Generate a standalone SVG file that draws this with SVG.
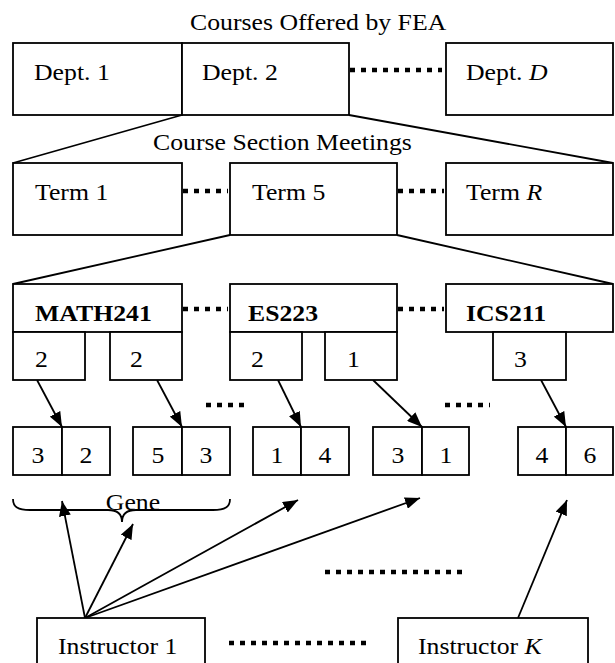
<svg xmlns="http://www.w3.org/2000/svg" width="615" height="663" viewBox="0 0 615 663">
<defs>
<marker id="ah" viewBox="0 0 15 12" refX="15" refY="6" markerWidth="15" markerHeight="12" markerUnits="userSpaceOnUse" orient="auto">
<path d="M0,0 L15,6 L0,12 z" fill="#000"/>
</marker>
<style>
text{font-family:"Liberation Serif","Times New Roman",serif;font-size:23px;fill:#000}
.b{font-weight:bold}
.m{text-anchor:middle}
rect{fill:#fff;stroke:#000;stroke-width:1.8}
.ln{stroke:#000;stroke-width:1.8;fill:none}
.dot{stroke:#000;stroke-width:4.5;stroke-dasharray:5 6;fill:none}
.ar{stroke:#000;stroke-width:1.8;fill:none;marker-end:url(#ah)}
</style>
</defs>
<rect x="0" y="0" width="615" height="663" style="fill:#fff;stroke:none"/>
<text transform="translate(190,30) scale(1.12,1)">Courses Offered by FEA</text>
<text transform="translate(153,150) scale(1.12,1)">Course Section Meetings</text>
<g id="connectors">
<path class="ln" d="M182,115 L13,163 M349,115 L613,163"/>
<path class="ln" d="M230,235 L13,284 M397,235 L613,284"/>
<path class="dot" d="M350,70 H442"/>
<path class="dot" d="M183,191 H228 M398,191 H444"/>
<path class="dot" d="M183,309 H228 M398,309 H444"/>
<path class="dot" d="M206,405 H250 M445,405 H490"/>
<path class="dot" d="M325,572 H465"/>
<path class="dot" d="M229,643 H370"/>
<path class="ar" d="M37,380 L62,427"/>
<path class="ar" d="M157,380 L182,427"/>
<path class="ar" d="M278,380 L301,427"/>
<path class="ar" d="M373,380 L422,427"/>
<path class="ar" d="M541,380 L566,427"/>
<path class="ar" d="M85,618 L62,501"/>
<path class="ar" d="M85,618 L133,524"/>
<path class="ar" d="M85,618 L298,500"/>
<path class="ar" d="M85,618 L420,498"/>
<path class="ar" d="M518,618 L567,500"/>
</g>
<g id="dept1"><rect x="13" y="43" width="169" height="72"/><text transform="translate(34,80) scale(1.12,1)">Dept. 1</text></g>
<g id="dept2"><rect x="182" y="43" width="167" height="72"/><text transform="translate(202,80) scale(1.12,1)">Dept. 2</text></g>
<g id="deptD"><rect x="446" y="43" width="167" height="72"/><text transform="translate(466,80) scale(1.12,1)">Dept. <tspan font-style="italic">D</tspan></text></g>
<g id="term1"><rect x="13" y="163" width="169" height="72"/><text transform="translate(35,200) scale(1.12,1)">Term 1</text></g>
<g id="term5"><rect x="230" y="163" width="167" height="72"/><text transform="translate(252,200) scale(1.12,1)">Term 5</text></g>
<g id="termR"><rect x="446" y="163" width="167" height="72"/><text transform="translate(466,200) scale(1.12,1)">Term <tspan font-style="italic">R</tspan></text></g>
<g id="math241"><rect x="13" y="284" width="169" height="48"/><text class="b" transform="translate(35,321) scale(1.12,1)">MATH241</text>
<rect x="13" y="332" width="72" height="48"/><text transform="translate(35,367) scale(1.12,1)">2</text>
<rect x="110" y="332" width="72" height="48"/><text transform="translate(130,367) scale(1.12,1)">2</text></g>
<g id="es223"><rect x="230" y="284" width="167" height="48"/><text class="b" transform="translate(248,321) scale(1.12,1)">ES223</text>
<rect x="230" y="332" width="72" height="48"/><text transform="translate(251,367) scale(1.12,1)">2</text>
<rect x="325" y="332" width="72" height="48"/><text transform="translate(347,367) scale(1.12,1)">1</text></g>
<g id="ics211"><rect x="446" y="284" width="167" height="48"/><text class="b" transform="translate(466,321) scale(1.12,1)">ICS211</text>
<rect x="493" y="332" width="73" height="48"/><text transform="translate(514,367) scale(1.12,1)">3</text></g>
<g id="gene1"><rect x="13" y="427" width="49" height="48"/><rect x="62" y="427" width="48" height="48"/><text class="m" transform="translate(38,463) scale(1.12,1)">3</text><text class="m" transform="translate(86,463) scale(1.12,1)">2</text></g>
<g id="gene2"><rect x="133" y="427" width="49" height="48"/><rect x="182" y="427" width="48" height="48"/><text class="m" transform="translate(158,463) scale(1.12,1)">5</text><text class="m" transform="translate(206,463) scale(1.12,1)">3</text></g>
<g id="gene3"><rect x="253" y="427" width="48" height="48"/><rect x="301" y="427" width="48" height="48"/><text class="m" transform="translate(277,463) scale(1.12,1)">1</text><text class="m" transform="translate(325,463) scale(1.12,1)">4</text></g>
<g id="gene4"><rect x="373" y="427" width="49" height="48"/><rect x="422" y="427" width="47" height="48"/><text class="m" transform="translate(398,463) scale(1.12,1)">3</text><text class="m" transform="translate(446,463) scale(1.12,1)">1</text></g>
<g id="gene5"><rect x="518" y="427" width="48" height="48"/><rect x="566" y="427" width="47" height="48"/><text class="m" transform="translate(542,463) scale(1.12,1)">4</text><text class="m" transform="translate(590,463) scale(1.12,1)">6</text></g>
<g id="gene-brace"><path class="ln" d="M13,499 C13,507 18,510 30,510 L108,510 C116,510 122,513 122,522 C122,513 128,510 136,510 L213,510 C225,510 230,507 230,499"/><text class="m" transform="translate(133,510) scale(1.12,1)">Gene</text></g>
<g id="instructor1"><rect x="37" y="618" width="168" height="60"/><text transform="translate(58,654) scale(1.12,1)">Instructor 1</text></g>
<g id="instructorK"><rect x="398" y="618" width="190" height="60"/><text transform="translate(418,654) scale(1.12,1)">Instructor <tspan font-style="italic">K</tspan></text></g>
</svg>
